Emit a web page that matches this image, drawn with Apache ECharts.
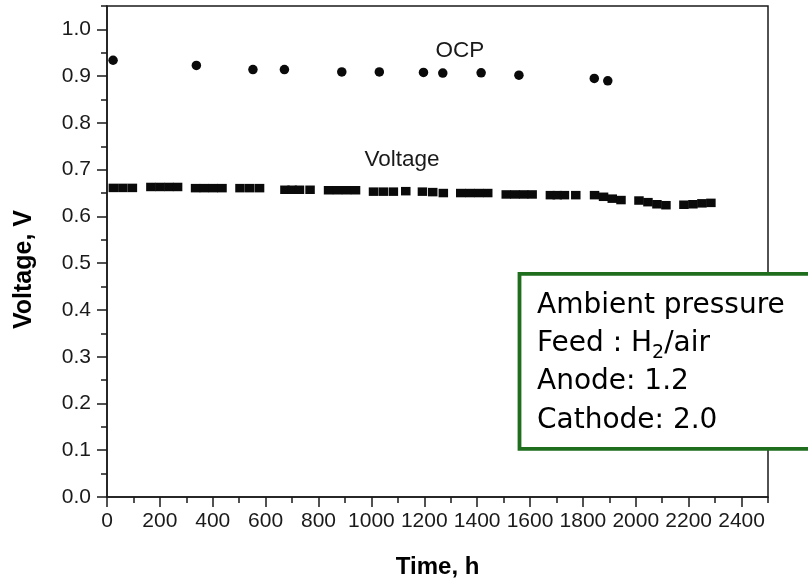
<!DOCTYPE html>
<html><head><meta charset="utf-8">
<script src="https://cdn.jsdelivr.net/npm/echarts@6/dist/echarts.min.js"></script>
<style>html,body{margin:0;padding:0;background:#fff}#c{width:808px;height:578px}</style>
</head><body><div id="c"></div>
<script>
// ---- data ----
const voltageTime = [24, 60, 96, 166, 200, 234, 267, 335, 368, 402, 435, 503, 540, 577, 673, 700, 728, 768, 838, 872, 906, 940, 1008, 1045, 1083, 1130, 1193, 1232, 1272, 1338, 1372, 1406, 1440, 1510, 1543, 1576, 1608, 1677, 1703, 1730, 1773, 1844, 1878, 1911, 1944, 2012, 2046, 2080, 2114, 2182, 2216, 2250, 2284];
const voltageValue = [0.661, 0.661, 0.661, 0.663, 0.663, 0.663, 0.663, 0.6605, 0.6605, 0.6605, 0.6605, 0.6605, 0.6605, 0.6605, 0.657, 0.657, 0.657, 0.657, 0.656, 0.656, 0.656, 0.656, 0.653, 0.653, 0.653, 0.654, 0.653, 0.652, 0.650, 0.650, 0.650, 0.650, 0.650, 0.647, 0.647, 0.647, 0.647, 0.6455, 0.6455, 0.6455, 0.6455, 0.6455, 0.642, 0.638, 0.635, 0.634, 0.6305, 0.626, 0.624, 0.625, 0.626, 0.628, 0.629];
const ocpTime = [23, 338, 552, 671, 888, 1030, 1197, 1270, 1415, 1558, 1843, 1894];
const ocpValue = [0.934, 0.923, 0.914, 0.914, 0.909, 0.909, 0.908, 0.9065, 0.907, 0.902, 0.895, 0.890];
const xTickValues = [0, 200, 400, 600, 800, 1000, 1200, 1400, 1600, 1800, 2000, 2200, 2400];
const yTickValues = [0, 0.1, 0.2, 0.3, 0.4, 0.5, 0.6, 0.7, 0.8, 0.9, 1.0];
const xTitle = 'Time, h';
const yTitle = 'Voltage, V';
const ocpLabel = 'OCP';
const voltageLabel = 'Voltage';
const infoLine1 = 'Ambient pressure';
const infoLine2a = 'Feed : H';
const infoLine2sub = '2';
const infoLine2b = '/air';
const infoLine3 = 'Anode: 1.2';
const infoLine4 = 'Cathode: 2.0';

// ---- chart ----
const AX = '#1a1a1a';
const FONT = '"Liberation Sans", Arial, Helvetica, sans-serif';
const BOXFONT = '"DejaVu Sans", Verdana, sans-serif';
const GREEN = '#1e6e1e';

const cv = document.createElement('canvas').getContext('2d');
cv.font = '28px "DejaVu Sans"';
const wFeed = cv.measureText(infoLine2a).width;
cv.font = '19px "DejaVu Sans"';
const wSub = cv.measureText(infoLine2sub).width;

const textX = 537;
const chart = echarts.init(document.getElementById('c'), null, {renderer: 'canvas'});
const voltageData = voltageTime.map((t, i) => [t, voltageValue[i]]);
const ocpData = ocpTime.map((t, i) => [t, ocpValue[i]]);

chart.setOption({
  animation: false,
  backgroundColor: '#fff',
  grid: {left: 107, right: 40, top: 6, bottom: 81, show: true, borderColor: AX, borderWidth: 1.5, backgroundColor: 'transparent'},
  xAxis: [
    {type: 'value', min: 0, max: 2500, interval: 100, position: 'bottom',
     axisLine: {show: true, lineStyle: {color: AX, width: 1.5}},
     axisTick: {show: true, inside: false, length: 10, customValues: xTickValues, lineStyle: {color: AX, width: 1.5}},
     axisLabel: {show: true, customValues: xTickValues, margin: 14, color: AX, fontSize: 21, fontFamily: FONT,
                 formatter: v => String(v)},
     splitLine: {show: false}},
    {type: 'value', min: 0, max: 2500, interval: 100, position: 'bottom',
     axisLine: {show: false},
     axisTick: {show: true, inside: false, length: 6, lineStyle: {color: AX, width: 1.5}},
     axisLabel: {show: false}, splitLine: {show: false}}
  ],
  yAxis: [
    {type: 'value', min: 0, max: 1.05, interval: 0.05, position: 'left',
     axisLine: {show: true, lineStyle: {color: AX, width: 1.5}},
     axisTick: {show: true, inside: false, length: 10, customValues: yTickValues, lineStyle: {color: AX, width: 1.5}},
     axisLabel: {show: true, customValues: yTickValues, margin: 16, color: AX, fontSize: 21, fontFamily: FONT,
                 formatter: v => Number(v).toFixed(1)},
     splitLine: {show: false}},
    {type: 'value', min: 0, max: 1.05, interval: 0.05, position: 'left',
     axisLine: {show: false},
     axisTick: {show: true, inside: false, length: 6, lineStyle: {color: AX, width: 1.5}},
     axisLabel: {show: false}, splitLine: {show: false}}
  ],
  series: [
    {name: 'Voltage', type: 'scatter', xAxisIndex: 0, yAxisIndex: 0, data: voltageData,
     symbol: 'rect', symbolSize: [9.5, 8.5], itemStyle: {color: '#0a0a0a', opacity: 1}},
    {name: 'OCP', type: 'scatter', xAxisIndex: 0, yAxisIndex: 0, data: ocpData,
     symbol: 'circle', symbolSize: 9.5, itemStyle: {color: '#0a0a0a', opacity: 1}}
  ],
  graphic: [
    {type: 'text', z: 50, x: 437.6, y: 567, style: {text: xTitle, font: 'bold 24px ' + FONT, fill: '#000', align: 'center', verticalAlign: 'middle'}},
    {type: 'text', z: 50, x: 24, y: 269.5, rotation: Math.PI / 2, style: {text: yTitle, font: 'bold 25px ' + FONT, fill: '#000', align: 'center', verticalAlign: 'middle'}},
    {type: 'text', z: 50, x: 460, y: 50.5, style: {text: ocpLabel, font: '22.5px ' + FONT, fill: '#1a1a1a', align: 'center', verticalAlign: 'middle'}},
    {type: 'text', z: 50, x: 402, y: 160, style: {text: voltageLabel, font: '22.5px ' + FONT, fill: '#1a1a1a', align: 'center', verticalAlign: 'middle'}},
    {type: 'rect', z: 100, shape: {x: 519.5, y: 273.8, width: 330, height: 175}, style: {fill: '#fff', stroke: GREEN, lineWidth: 3.8}},
    {type: 'text', z: 101, x: textX, y: 305.5, style: {text: infoLine1, font: '28px ' + BOXFONT, fill: '#000', align: 'left', verticalAlign: 'middle'}},
    {type: 'text', z: 101, x: textX, y: 343.5, style: {text: infoLine2a, font: '28px ' + BOXFONT, fill: '#000', align: 'left', verticalAlign: 'middle'}},
    {type: 'text', z: 101, x: textX + wFeed, y: 353.5, style: {text: infoLine2sub, font: '19px ' + BOXFONT, fill: '#000', align: 'left', verticalAlign: 'middle'}},
    {type: 'text', z: 101, x: textX + wFeed + wSub, y: 343.5, style: {text: infoLine2b, font: '28px ' + BOXFONT, fill: '#000', align: 'left', verticalAlign: 'middle'}},
    {type: 'text', z: 101, x: textX, y: 382, style: {text: infoLine3, font: '28px ' + BOXFONT, fill: '#000', align: 'left', verticalAlign: 'middle'}},
    {type: 'text', z: 101, x: textX, y: 420.5, style: {text: infoLine4, font: '28px ' + BOXFONT, fill: '#000', align: 'left', verticalAlign: 'middle'}}
  ]
});
</script>
</body></html>
